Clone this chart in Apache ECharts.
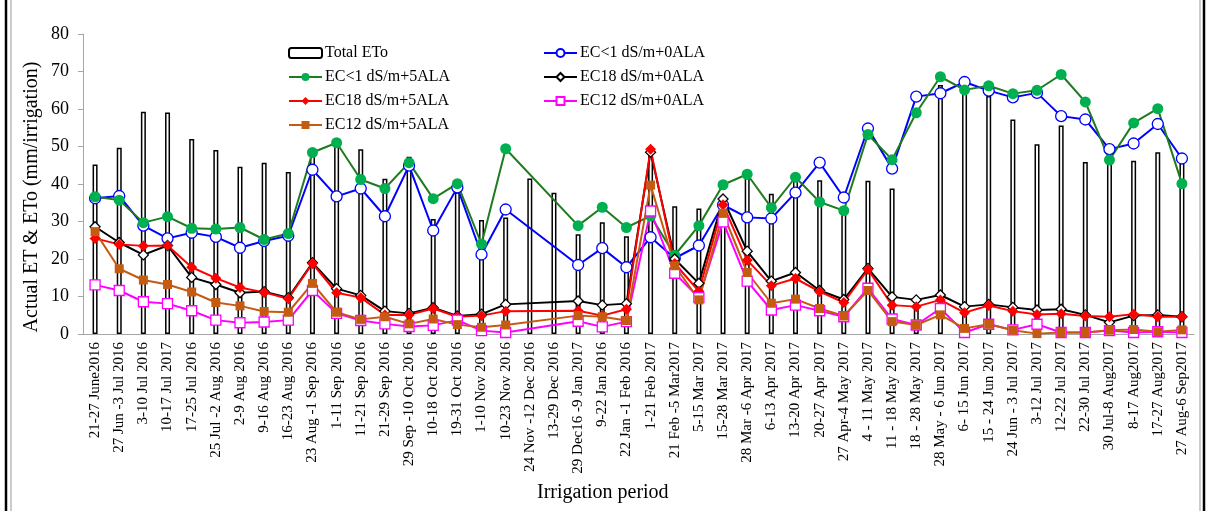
<!DOCTYPE html>
<html><head><meta charset="utf-8">
<script src="https://cdn.jsdelivr.net/npm/echarts@6/dist/echarts.min.js"></script>
<style>html,body{margin:0;padding:0;background:#fff}#c{width:1208px;height:511px}</style>
</head><body><div id="c"></div>
<script>
const categories = ["21-27 June2016","27 Jun -3 Jul 2016","3-10 Jul 2016","10-17 Jul 2017","17-25 Jul 2016","25 Jul -2 Aug 2016","2-9 Aug 2016","9-16 Aug 2016","16-23 Aug 2016","23 Aug -1 Sep 2016","1-11 Sep 2016","11-21 Sep 2016","21-29 Sep 2016","29 Sep -10 Oct 2016","10-18 Oct 2016","19-31 Oct 2016","1-10 Nov 2016","10-23 Nov 2016","24 Nov -12 Dec 2016","13-29 Dec 2016","29 Dec16 -9 Jan 2017","9-22 Jan 2016","22 Jan -1 Feb 2016","1-21 Feb 2017","21 Feb -5 Mar2017","5-15 Mar 2017","15-28 Mar 2017","28 Mar -6 Apr 2017","6-13 Apr 2017","13-20 Apr 2017","20-27 Apr 2017","27 Apr-4 May 2017","4 - 11 May 2017","11 - 18 May 2017","18 - 28 May 2017","28 May - 6 Jun 2017","6- 15 Jun 2017","15 - 24 Jun 2017","24 Jun - 3 Jul 2017","3-12 Jul 2017","12-22 Jul 2017","22-30 Jul 2017","30 Jul-8 Aug2017","8-17 Aug2017","17-27 Aug2017","27 Aug-6 Sep2017"];
const totalETo = [45.2,49.7,59.3,59.1,52.0,49.1,44.6,45.7,43.2,48.5,50.0,49.3,41.4,47.3,30.7,37.8,30.4,31.1,41.5,37.7,26.6,29.8,26.1,49.0,34.1,33.5,36.5,41.7,37.4,41.0,41.0,33.0,40.9,38.8,8.0,66.4,64.5,63.5,57.2,50.6,55.6,45.9,46.5,46.2,48.5,46.0];
const ec1_0ALA = [36.2,36.8,28.9,25.5,27.0,25.9,23.0,24.8,26.2,43.8,36.7,38.8,31.4,44.9,27.6,39.1,21.2,33.2,null,null,18.4,22.9,17.8,25.8,20.2,23.6,34.4,31.1,30.8,37.7,45.7,36.4,54.8,44.1,63.3,64.2,67.2,64.9,63.1,64.3,58.1,57.2,49.3,50.8,56.0,46.8];
const ec1_5ALA = [36.6,35.7,29.7,31.3,28.2,28.0,28.4,25.2,26.8,48.4,51.0,41.2,38.8,45.7,36.1,40.1,24.0,49.4,null,null,28.9,33.8,28.4,31.5,21.0,28.9,39.8,42.6,33.7,41.8,35.2,32.9,53.2,46.5,59.0,68.6,65.1,66.2,64.1,65.0,69.2,61.9,46.4,56.3,60.1,40.1];
const ec18_0ALA = [28.6,24.4,21.1,23.6,15.1,13.2,11.0,11.3,9.7,19.0,12.1,10.3,6.1,5.5,7.0,4.8,5.3,7.9,null,null,8.8,7.7,8.1,48.5,20.0,13.5,36.0,22.1,14.1,16.4,11.6,9.2,17.5,9.9,9.1,10.4,7.3,7.9,7.1,6.4,6.6,5.1,3.1,4.9,5.1,4.6];
const ec18_5ALA = [25.5,23.9,23.5,23.6,17.8,14.9,12.4,11.1,9.4,18.8,11.0,9.7,5.1,5.1,6.8,4.6,4.9,6.1,null,null,6.2,4.9,6.6,49.3,18.8,11.4,34.5,19.7,12.9,14.8,11.3,8.4,17.2,7.7,7.3,9.1,5.7,7.6,6.1,5.2,5.4,4.8,4.6,5.3,4.6,4.6];
const ec12_0ALA = [13.1,11.6,8.6,8.1,6.2,3.7,3.0,3.2,3.7,11.6,5.5,3.6,2.7,2.0,2.3,3.7,0.9,0.4,null,null,3.4,1.9,3.3,32.8,16.2,9.7,29.9,14.1,6.4,7.7,6.2,4.6,12.2,4.0,2.4,6.8,0.4,2.6,1.1,2.6,0.4,0.4,0.9,0.4,0.6,0.4];
const ec12_5ALA = [27.3,17.4,14.4,13.2,11.2,8.4,7.5,6.0,5.8,13.5,5.8,3.9,4.6,2.7,4.0,2.5,1.8,2.4,null,null,4.9,4.6,3.6,39.7,18.2,9.1,32.2,16.4,8.2,9.3,6.8,4.8,11.6,3.3,2.4,5.1,1.5,2.6,1.0,0.1,0.4,0.4,1.0,1.2,0.6,1.1];
const yTicks = {min:0, max:80, interval:10};

const FONT = '"Liberation Serif","Times New Roman",serif';
function lineSeries(name, data, color, symbol, size, fill, lineColor) {
  return {
    name, type:'line', data, connectNulls:true, symbol, symbolSize:size,
    lineStyle:{color: lineColor || color, width:2},
    itemStyle:{color: fill, borderColor: color, borderWidth: fill === '#fff' ? 1.3 : 0},
    z: 3
  };
}
const legendText = {fontFamily:FONT, fontSize:16, color:'#000', lineHeight:16, padding:[0,0,0,-2]};
const chart = echarts.init(document.getElementById('c'), null, {renderer:'canvas'});
chart.setOption({
  animation:false,
  backgroundColor:'#fff',
  grid:{left:83, right:14, top:34, bottom:177, containLabel:false},
  legend:[
    {orient:'vertical', left:283, top:40, itemWidth:33, itemHeight:10, itemGap:8,
     textStyle:legendText,
     data:['Total ETo','EC<1 dS/m+5ALA','EC18 dS/m+5ALA','EC12 dS/m+5ALA']},
    {orient:'vertical', left:538, top:40, itemWidth:33, itemHeight:10, itemGap:8,
     textStyle:legendText,
     data:['EC<1 dS/m+0ALA','EC18 dS/m+0ALA','EC12 dS/m+0ALA']}
  ],
  xAxis:{
    type:'category', data:categories, boundaryGap:true,
    axisLine:{lineStyle:{color:'#a6a6a6', width:1}},
    axisTick:{interval:4, length:5, lineStyle:{color:'#a6a6a6'}},
    axisLabel:{interval:0, rotate:90, margin:8, fontFamily:FONT, fontSize:15, color:'#000'}
  },
  yAxis:{
    type:'value', min:yTicks.min, max:yTicks.max, interval:yTicks.interval,
    axisLine:{show:true, lineStyle:{color:'#a6a6a6'}},
    axisTick:{show:true, length:5, lineStyle:{color:'#a6a6a6'}},
    splitLine:{show:false},
    axisLabel:{fontFamily:FONT, fontSize:18, color:'#000', margin:14}
  },
  graphic:[
    {type:'text', x:32, y:197, rotation:Math.PI/2,
     style:{text:'Actual ET & ETo (mm/irrigation)', font:'20px "Liberation Serif"', fill:'#000', align:'center', verticalAlign:'middle'}},
    {type:'text', left:537, top:483, style:{text:'Irrigation period', font:'20px "Liberation Serif"', fill:'#000'}},
    {type:'rect', shape:{x:6, y:-2, width:1198, height:515}, style:{fill:'none', stroke:'#000', lineWidth:2.5}, silent:true},
    {type:'rect', shape:{x:11, y:-2, width:1189, height:515}, style:{fill:'none', stroke:'#999', lineWidth:1}, silent:true}
  ],
  series:[
    {name:'Total ETo', type:'bar', data:totalETo, barWidth:5,
     itemStyle:{color:'#fff', borderColor:'#000', borderWidth:1.5}, z:2},
    lineSeries('EC<1 dS/m+0ALA', ec1_0ALA, '#0000ff', 'circle', 11, '#fff'),
    lineSeries('EC<1 dS/m+5ALA', ec1_5ALA, '#00b050', 'circle', 11, '#00b050', '#1e7b1e'),
    lineSeries('EC18 dS/m+0ALA', ec18_0ALA, '#000000', 'diamond', 10, '#fff'),
    lineSeries('EC18 dS/m+5ALA', ec18_5ALA, '#ff0000', 'diamond', 11, '#ff0000'),
    lineSeries('EC12 dS/m+0ALA', ec12_0ALA, '#ff00ff', 'rect', 10, '#fff'),
    lineSeries('EC12 dS/m+5ALA', ec12_5ALA, '#c55a11', 'rect', 9, '#c55a11')
  ]
});
</script></body></html>
